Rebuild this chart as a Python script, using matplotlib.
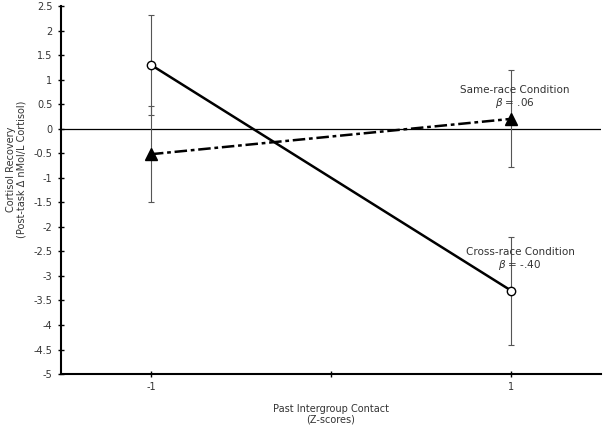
import matplotlib.pyplot as plt

contact = [-1, 1]
cross_mean = [1.3, -3.3]
cross_err = [1.02, 1.1]
same_mean = [-0.52, 0.2]
same_err = [0.98, 0.99]

yticks = [2.5, 2, 1.5, 1, 0.5, 0, -0.5, -1, -1.5, -2, -2.5, -3, -3.5, -4, -4.5, -5]
ytick_labels = ['2.5', '2', '1.5', '1', '0.5', '0', '-0.5', '-1', '-1.5', '-2',
                '-2.5', '-3', '-3.5', '-4', '-4.5', '-5']

fig = plt.figure(figsize=(6.03, 4.28), dpi=100)
ax = fig.add_axes([0.101, 0.126, 0.896, 0.86])

ax.axhline(0, color='black', lw=0.9, zorder=1)

ax.errorbar(contact, cross_mean, yerr=cross_err, fmt='none', ecolor='#555555',
            elinewidth=0.8, capsize=2.5, capthick=0.8, zorder=2)
ax.errorbar(contact, same_mean, yerr=same_err, fmt='none', ecolor='#555555',
            elinewidth=0.8, capsize=2.5, capthick=0.8, zorder=2)

ax.plot(contact, cross_mean, color='black', lw=1.8, marker='o', ms=6,
        mfc='white', mec='black', mew=1.0, zorder=3)
ax.plot(contact, same_mean, color='black', lw=1.8, ls=(0, (5, 1.5, 1.5, 1.5)),
        marker='^', ms=8, mfc='black', mec='black', zorder=3)

ax.text(1.02, 0.63, 'Same-race Condition\n' + r'$\beta$ = .06', ha='center',
        va='center', fontsize=7.5, color='#333333', linespacing=1.1)
ax.text(1.05, -2.67, 'Cross-race Condition\n' + r'$\beta$ = -.40', ha='center',
        va='center', fontsize=7.5, color='#333333', linespacing=1.1)

ax.set_xlim(-1.5, 1.5)
ax.set_ylim(-5, 2.5)
ax.set_xticks([-1, 0, 1])
ax.set_xticklabels(['-1', '', '1'])
ax.set_yticks(yticks)
ax.set_yticklabels(ytick_labels)
ax.tick_params(direction='inout', length=5, width=1, labelsize=7,
               labelcolor='#333333')

for s in ['top', 'right']:
    ax.spines[s].set_visible(False)
for s in ['left', 'bottom']:
    ax.spines[s].set_linewidth(1.5)

ax.set_xlabel('Past Intergroup Contact\n(Z-scores)', fontsize=7, color='#333333',
              linespacing=1.1)
ax.xaxis.set_label_coords(0.5, -0.08)
ax.set_ylabel('Cortisol Recovery\n(Post-task \u0394 nMol/L Cortisol)', fontsize=7,
              color='#333333', linespacing=1.1)
ax.yaxis.set_label_coords(-0.063, 0.557)

fig.savefig('out.png', dpi=100)
